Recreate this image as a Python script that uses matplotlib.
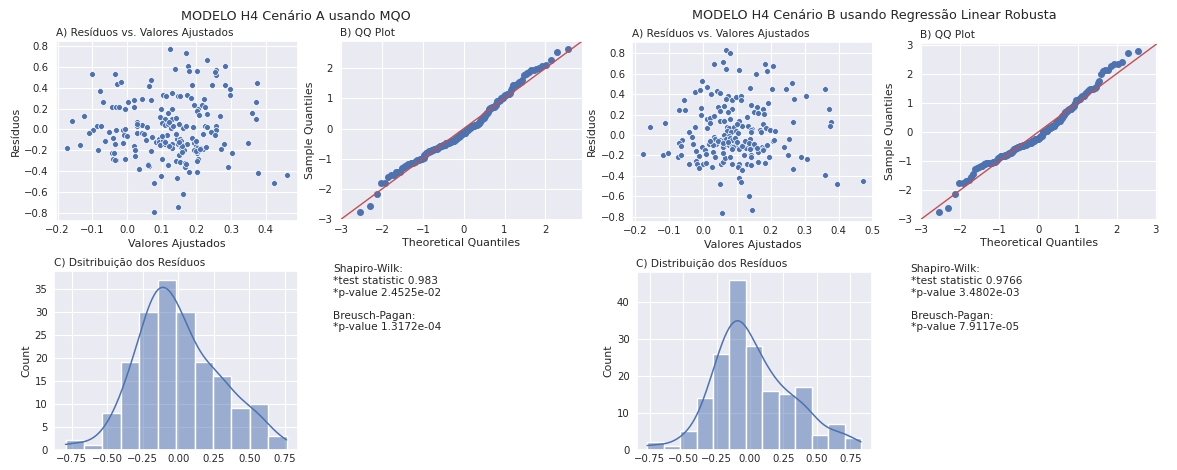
import numpy as np
import matplotlib.pyplot as plt
import seaborn as sns
from matplotlib.ticker import MultipleLocator
from statistics import NormalDist

# Modelo A (MQO): valores ajustados x residuos
fitted_a = [
    0.124, 0.138, -0.100, -0.036, -0.029, -0.016, 0.069, 0.062, -0.079, 0.103,
    0.111, 0.129, 0.148, -0.069, -0.042, -0.032, -0.023, -0.007, 0.002, 0.020,
    0.019, 0.043, 0.069, 0.098, 0.130, 0.119, 0.095, 0.110, 0.131, 0.141,
    0.102, 0.110, 0.117, 0.126, 0.132, -0.158, -0.124, -0.086, -0.074, -0.097,
    -0.110, -0.052, -0.033, -0.012, -0.006, -0.041, -0.010, 0.000, 0.029, 0.030,
    0.042, 0.058, 0.028, 0.042, 0.050, 0.056, 0.072, 0.083, 0.091, 0.093,
    0.096, 0.105, 0.110, 0.115, 0.130, 0.131, 0.145, 0.148, -0.174, -0.135,
    -0.083, -0.063, -0.044, -0.037, -0.040, -0.033, -0.034, -0.013, -0.007, 0.019,
    0.024, 0.024, 0.035, 0.061, 0.062, 0.068, 0.102, 0.119, 0.141, 0.144,
    0.097, 0.078, 0.079, 0.147,
    0.171, 0.230, 0.177, 0.180, 0.203, 0.257, 0.257, 0.284, 0.376, 0.186,
    0.246, 0.282, 0.298, 0.298, 0.152, 0.173, 0.184, 0.222, 0.194, 0.205,
    0.203, 0.216, 0.226, 0.208, 0.231, 0.269, 0.371, 0.360, 0.371, 0.162,
    0.171, 0.190, 0.224, 0.232, 0.258, 0.257, 0.241, 0.219, 0.253, 0.188,
    0.153, 0.155, 0.160, 0.155, 0.172, 0.164, 0.194, 0.198, 0.201, 0.193,
    0.201, 0.205, 0.201, 0.205, 0.214, 0.218, 0.229, 0.150, 0.152, 0.167,
    0.167, 0.179, 0.203, 0.280, 0.272, 0.303, 0.291, 0.348, 0.377, 0.424,
    0.460, 0.162,
    0.255, 0.203, 0.170, 0.060, -0.035, 0.200, 0.210, 0.160, 0.120, 0.160,
    0.110, 0.150, 0.100, 0.200, 0.140, 0.120, 0.150, 0.030,
]
resid_a = [
    0.764, 0.579, 0.531, 0.525, 0.430, 0.449, 0.468, 0.417, 0.370, 0.331,
    0.321, 0.347, 0.321, 0.267, 0.216, 0.210, 0.213, 0.200, 0.267, 0.280,
    0.213, 0.293, 0.277, 0.197, 0.194, 0.153, 0.121, 0.099, 0.102, 0.105,
    0.060, 0.041, 0.057, 0.013, 0.032, 0.083, 0.127, 0.038, 0.038, -0.008,
    -0.035, -0.022, -0.008, -0.003, 0.006, -0.080, -0.048, -0.064, 0.076, 0.032,
    0.041, 0.019, -0.035, -0.038, -0.045, -0.099, -0.076, -0.115, -0.089, -0.115,
    -0.150, -0.099, -0.138, -0.051, -0.134, -0.175, -0.095, -0.138, -0.175, -0.150,
    -0.194, -0.111, -0.229, -0.220, -0.283, -0.296, -0.138, -0.127, -0.286, -0.156,
    -0.197, -0.251, -0.375, -0.325, -0.347, -0.210, -0.280, -0.337, -0.305, -0.461,
    -0.445, -0.512, -0.792, -0.738,
    0.732, 0.659, 0.605, 0.563, 0.560, 0.570, 0.519, 0.608, 0.445, 0.423,
    0.426, 0.423, 0.391, 0.331, 0.318, 0.331, 0.299, 0.293, 0.238, 0.200,
    0.181, 0.229, 0.210, 0.143, 0.150, 0.130, 0.264, 0.159, 0.099, 0.010,
    0.032, 0.022, 0.035, 0.025, 0.032, -0.008, -0.022, -0.041, -0.054, -0.080,
    -0.089, -0.111, -0.150, -0.165, -0.134, -0.200, -0.127, -0.153, -0.178, -0.194,
    -0.223, -0.210, -0.296, -0.280, -0.178, -0.191, -0.165, -0.245, -0.315, -0.321,
    -0.360, -0.410, -0.410, -0.134, -0.188, -0.229, -0.356, -0.127, -0.414, -0.515,
    -0.436, -0.620,
    0.545, -0.300, -0.330, -0.335, -0.290, -0.205, -0.190, -0.160, -0.160, -0.215,
    -0.120, -0.120, -0.060, -0.110, -0.040, 0.070, 0.050, 0.050,
]

# Modelo B (Regressao Linear Robusta)
fitted_b = [
    0.068, 0.079, 0.032, 0.058, 0.067, 0.105, -0.002, 0.012, -0.023, -0.010,
    0.024, 0.042, 0.050, 0.139, -0.055, -0.072, -0.052, -0.005, 0.073, 0.069,
    0.087, 0.097, 0.113, 0.112, 0.044, 0.061, 0.086, 0.051, 0.074, -0.007,
    0.011, 0.020, 0.034, 0.050, 0.061, 0.079, 0.105, -0.022, 0.011, 0.070,
    0.077, 0.091, 0.114, 0.132, 0.070, 0.083, 0.097, 0.104, 0.061, 0.077,
    0.145, -0.155, -0.113, -0.042, -0.032, -0.061, -0.070, -0.066, 0.032, 0.036,
    0.018, 0.038, 0.051, 0.063, 0.069, 0.080, 0.087, 0.094, 0.058, 0.069,
    0.077, 0.087, 0.095, 0.107, 0.120, 0.127, 0.137, -0.003, 0.007, -0.019,
    -0.013, 0.010, 0.029, 0.035, -0.176, -0.119, -0.104, -0.074, -0.066, -0.042,
    -0.020, -0.017, 0.001, 0.010, -0.013, 0.027, 0.053, 0.060, 0.065, 0.079,
    0.086, 0.107, 0.104, 0.114, 0.131, 0.142, 0.105, 0.112, 0.050, 0.136,
    0.055, 0.145,
    0.184, 0.208, 0.189, 0.158, 0.204, 0.246, 0.262, 0.359, 0.270, 0.304,
    0.373, 0.143, 0.159, 0.177, 0.193, 0.152, 0.162, 0.180, 0.265, 0.379,
    0.376, 0.143, 0.143, 0.169, 0.172, 0.178, 0.186, 0.199, 0.213, 0.138,
    0.207, 0.253, 0.145, 0.138, 0.174, 0.180, 0.161, 0.177, 0.141, 0.143,
    0.194, 0.250, 0.290, 0.306, 0.161, 0.182, 0.265, 0.360, 0.395, 0.472,
    0.045, 0.060, 0.075, 0.090, 0.100, 0.115, 0.125, 0.135, 0.150, 0.160,
    0.030, 0.020, 0.085, 0.190, 0.210, 0.240, -0.030, 0.120, 0.060, 0.100,
    0.130, 0.020,
]
resid_b = [
    0.830, 0.807, 0.699, 0.716, 0.644, 0.637, 0.529, 0.471, 0.425, 0.438,
    0.405, 0.428, 0.415, 0.465, 0.345, 0.245, 0.245, 0.265, 0.382, 0.356,
    0.345, 0.376, 0.382, 0.345, 0.275, 0.281, 0.252, 0.232, 0.225, 0.193,
    0.157, 0.167, 0.183, 0.137, 0.134, 0.157, 0.134, 0.082, 0.069, 0.075,
    0.069, 0.082, 0.085, 0.085, 0.036, 0.026, 0.036, 0.020, -0.003, -0.013,
    0.062, 0.078, 0.118, 0.029, -0.020, -0.046, -0.082, -0.105, -0.020, -0.042,
    -0.088, -0.088, -0.049, -0.049, -0.036, -0.025, -0.049, -0.025, -0.118, -0.088,
    -0.101, -0.111, -0.095, -0.137, -0.088, -0.127, -0.101, -0.118, -0.147, -0.160,
    -0.209, -0.186, -0.170, -0.212, -0.183, -0.199, -0.180, -0.212, -0.199, -0.284,
    -0.252, -0.284, -0.284, -0.270, -0.324, -0.310, -0.284, -0.268, -0.229, -0.219,
    -0.282, -0.282, -0.310, -0.346, -0.288, -0.294, -0.422, -0.464, -0.480, -0.595,
    -0.768, -0.732,
    0.699, 0.676, 0.627, 0.601, 0.455, 0.455, 0.510, 0.455, 0.356, 0.379,
    0.255, 0.294, 0.271, 0.252, 0.310, 0.222, 0.220, 0.205, 0.124, 0.131,
    0.085, 0.052, 0.026, 0.052, 0.033, 0.108, 0.069, 0.046, 0.039, -0.040,
    -0.062, -0.035, -0.118, -0.137, -0.118, -0.127, -0.163, -0.145, -0.193, -0.216,
    -0.216, -0.193, -0.212, -0.232, -0.261, -0.270, -0.333, -0.392, -0.480, -0.454,
    -0.060, -0.080, -0.065, -0.120, -0.070, -0.110, -0.055, -0.075, -0.090, -0.130,
    -0.100, -0.060, -0.140, -0.100, -0.050, -0.120, -0.090, -0.200, -0.180, 0.110,
    0.180, 0.120,
]

bins_a = 12
bins_b = 13

# testes: (estatistica, p-valor) de Shapiro-Wilk e p-valor de Breusch-Pagan
shapiro_a = ('0.983', 2.4525e-02)
bp_a = 1.3172e-04
shapiro_b = ('0.9766', 3.4802e-03)
bp_b = 7.9117e-05

titulo_a = 'MODELO H4 Cenário A usando MQO'
titulo_b = 'MODELO H4 Cenário B usando Regressão Linear Robusta'

sns.set_theme(style='darkgrid')
plt.rcParams['font.family'] = ['DejaVu Sans']
plt.rcParams.update({
    'xtick.labelsize': 7.3,
    'ytick.labelsize': 7.3,
    'axes.labelsize': 7.9,
    'axes.titlesize': 7.6,
    'grid.linewidth': 0.8,
    'xtick.major.size': 0,
    'ytick.major.size': 0,
    'xtick.major.pad': 3.5,
    'ytick.major.pad': 5.0,
    'axes.labelpad': 2.5,
})

W, H = 1177, 470
fig = plt.figure(figsize=(W / 100, H / 100), dpi=100)


def add_ax(box):
    l, t, r, b = box
    return fig.add_axes([l / W, 1 - b / H, (r - l) / W, (b - t) / H])


def qqplot(ax, resid):
    # mesmo esquema do statsmodels: posicoes i/(n+1), ajuste loc/scale, linha 45
    r = np.sort(np.asarray(resid))
    z = (r - r.mean()) / r.std()
    n = len(r)
    nd = NormalDist()
    theo = np.array([nd.inv_cdf(i / (n + 1)) for i in range(1, n + 1)])
    ax.plot(theo, z, 'o', color='C0', markersize=4)
    lo = min(ax.get_xlim()[0], ax.get_ylim()[0])
    hi = max(ax.get_xlim()[1], ax.get_ylim()[1])
    ax.plot([lo, hi], [lo, hi], color='r', lw=1.0)
    ax.set_xlim(lo, hi)
    ax.set_ylim(lo, hi)
    ax.set_xlabel('Theoretical Quantiles')
    ax.set_ylabel('Sample Quantiles')


def painel(fitted, resid, bins, titulo, titulo_c, sw, bp, boxes):
    ax1 = add_ax(boxes['scatter'])
    sns.scatterplot(x=fitted, y=resid, ax=ax1, s=18, linewidth=0.5)
    ax1.xaxis.set_major_locator(MultipleLocator(0.1))
    ax1.yaxis.set_major_locator(MultipleLocator(0.2))
    ax1.set_xlabel('Valores Ajustados')
    ax1.set_ylabel('Resíduos')
    ax1.set_title('A) Resíduos vs. Valores Ajustados', loc='left', pad=3.5)

    ax2 = add_ax(boxes['qq'])
    qqplot(ax2, resid)
    ax2.set_title('B) QQ Plot', loc='left', pad=3.5)

    ax3 = add_ax(boxes['hist'])
    sns.histplot(resid, bins=bins, kde=True, ax=ax3, line_kws={'linewidth': 1.1})
    ax3.xaxis.set_major_locator(MultipleLocator(0.25))
    ax3.set_title(titulo_c, loc='left', pad=3.5)

    tx, ty = boxes['text']
    texto = (f'Shapiro-Wilk:\n*test statistic {sw[0]}\n*p-value {sw[1]:.4e}\n\n'
             f'Breusch-Pagan:\n*p-value {bp:.4e}')
    fig.text(tx / W, 1 - ty / H, texto, ha='left', va='top', fontsize=7.6,
             linespacing=1.2, color='#262626')

    cx, cy = boxes['suptitle']
    fig.text(cx / W, 1 - cy / H, titulo, ha='center', va='center', fontsize=9.2,
             color='#262626')


painel(fitted_a, resid_a, bins_a, titulo_a, 'C) Dsitribuição dos Resíduos',
       shapiro_a, bp_a,
       {'scatter': (55.7, 41.3, 297.5, 220.6), 'qq': (340, 40.7, 582.7, 220),
        'hist': (54.5, 271, 297.7, 449.5), 'text': (333, 264.5),
        'suptitle': (296, 16)})
painel(fitted_b, resid_b, bins_b, titulo_b, 'C) Distribuição dos Resíduos',
       shapiro_b, bp_b,
       {'scatter': (632.3, 42.1, 873.9, 221.6), 'qq': (920, 42.7, 1158.3, 220),
        'hist': (636.5, 271.5, 871.7, 449.5), 'text': (910.7, 264.5),
        'suptitle': (874, 16)})

fig.savefig('out.png', dpi=100)
